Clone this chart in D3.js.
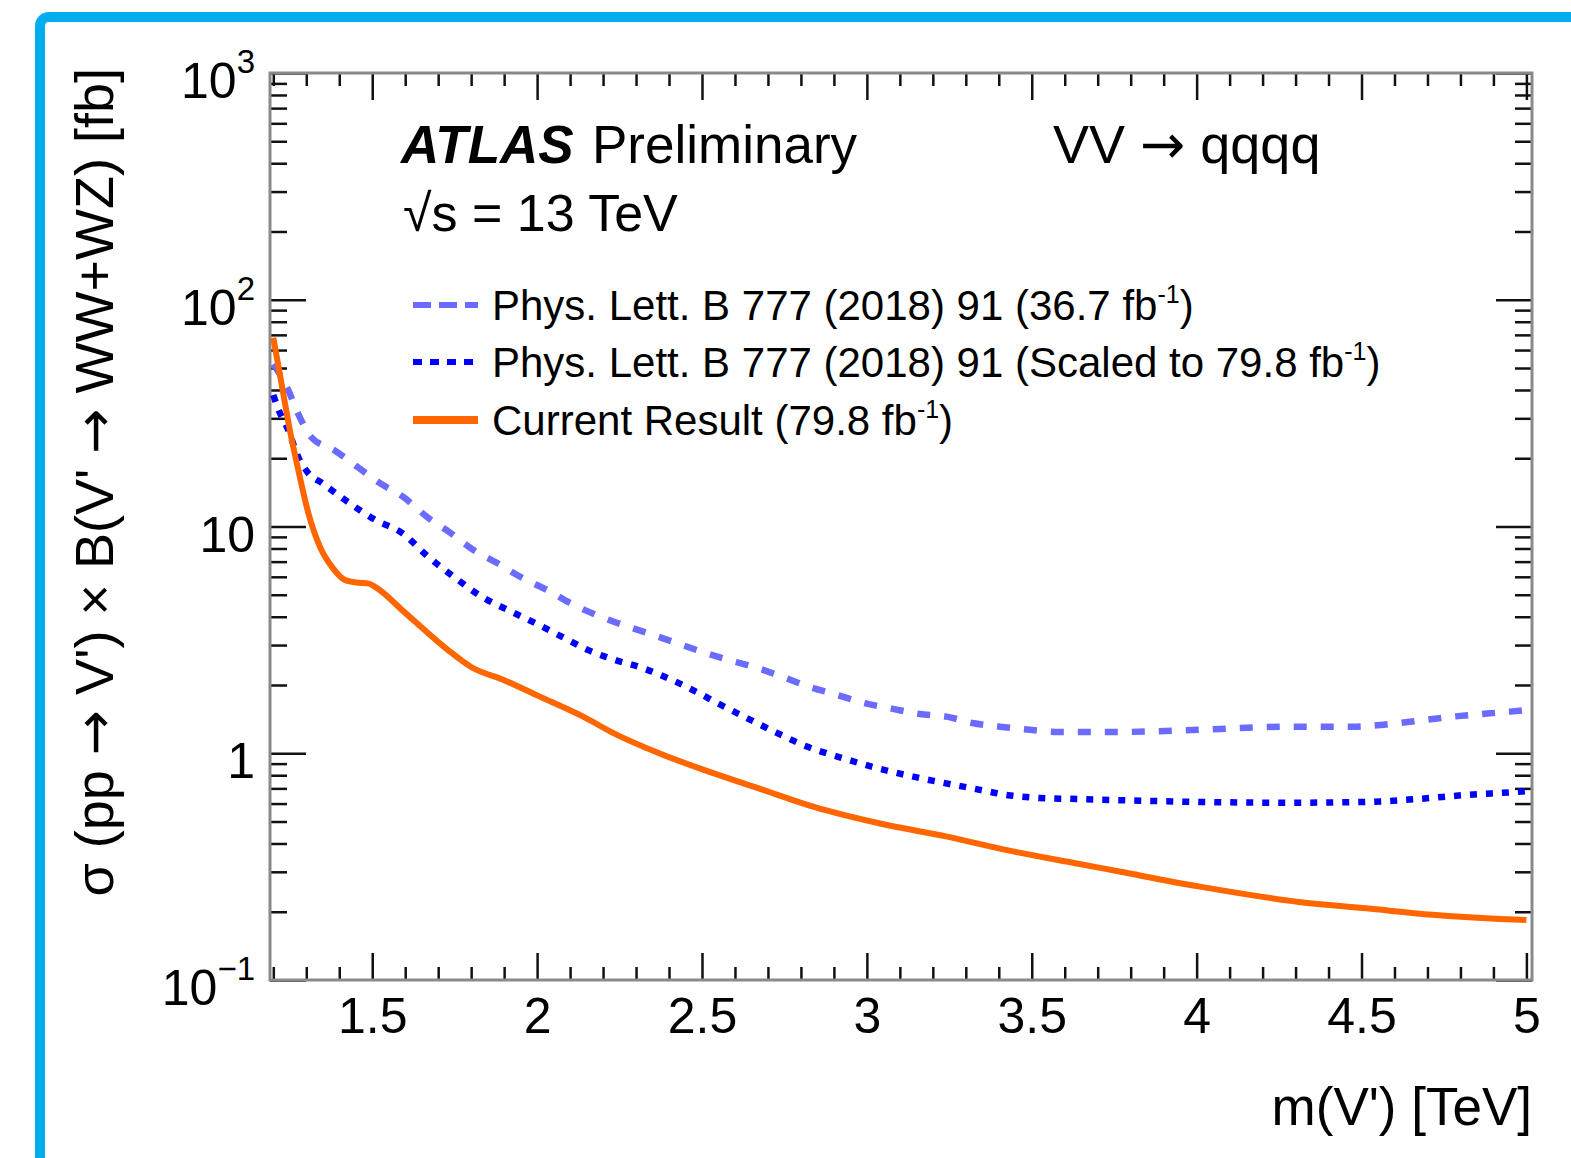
<!DOCTYPE html>
<html>
<head>
<meta charset="utf-8">
<script src="https://cdn.jsdelivr.net/npm/d3@7"></script>
<style>
  body { margin: 0; background: #fff; }
  svg text { font-family: "Liberation Sans", Arial, Helvetica, sans-serif; fill: #000; }
  svg tspan.arrow { font-family: "DejaVu Sans", sans-serif; }
</style>
</head>
<body>
<div id="vis"></div>
<script>
var massCurrent = [1.20, 1.227, 1.25, 1.276, 1.306, 1.342, 1.379, 1.418, 1.46, 1.49, 1.51, 1.60, 1.73, 1.80, 1.90, 2.00, 2.14, 2.23, 2.37, 2.51, 2.685, 2.84, 3.04, 3.24, 3.44, 3.645, 3.77, 4.01, 4.31, 4.515, 4.715, 4.92, 5.00];
var limitCurrent = [68, 41, 26.7, 17.7, 11.5, 8.1, 6.6, 5.8, 5.65, 5.6, 5.4, 4.16, 2.85, 2.4, 2.1, 1.8, 1.45, 1.23, 1.0, 0.84, 0.69, 0.58, 0.49, 0.43, 0.37, 0.325, 0.30, 0.258, 0.221, 0.207, 0.194, 0.186, 0.184];

var massOld = [1.20, 1.242, 1.273, 1.315, 1.385, 1.455, 1.524, 1.594, 1.667, 1.736, 1.806, 1.879, 1.958, 2.03, 2.10, 2.18, 2.26, 2.342, 2.424, 2.50, 2.585, 2.667, 2.745, 2.827, 2.909, 2.988, 3.079, 3.16, 3.242, 3.32, 3.403, 3.494, 3.585, 3.667, 3.745, 4.009, 4.273, 4.473, 4.615, 4.776, 4.958, 5.00];
var limitOld = [52, 41, 32, 24.8, 21.7, 18.3, 15.5, 13.5, 11.0, 9.4, 7.9, 6.9, 5.9, 5.25, 4.6, 4.07, 3.68, 3.36, 3.06, 2.8, 2.57, 2.38, 2.17, 1.96, 1.81, 1.67, 1.57, 1.49, 1.45, 1.36, 1.31, 1.27, 1.24, 1.24, 1.24, 1.27, 1.31, 1.31, 1.36, 1.45, 1.53, 1.55];

var massScaled = [1.20, 1.215, 1.245, 1.276, 1.306, 1.349, 1.427, 1.509, 1.591, 1.67, 1.752, 1.833, 1.912, 1.994, 2.076, 2.155, 2.236, 2.318, 2.388, 2.488, 2.545, 2.636, 2.727, 2.818, 2.918, 3.018, 3.121, 3.221, 3.321, 3.424, 3.524, 3.645, 3.745, 4.009, 4.273, 4.515, 4.667, 4.818, 4.97, 5.00];
var limitScaled = [38, 33, 26.7, 20.2, 17.2, 15.5, 12.8, 10.7, 9.35, 7.35, 5.93, 4.89, 4.28, 3.75, 3.26, 2.85, 2.58, 2.38, 2.17, 1.85, 1.67, 1.43, 1.23, 1.07, 0.96, 0.87, 0.80, 0.746, 0.70, 0.655, 0.635, 0.628, 0.622, 0.61, 0.605, 0.61, 0.628, 0.655, 0.675, 0.68];

var xMajorTicks = [1.5, 2, 2.5, 3, 3.5, 4, 4.5, 5];
var xTickLabels = ['1.5', '2', '2.5', '3', '3.5', '4', '4.5', '5'];
var yMajorTicks = [0.1, 1, 10, 100, 1000];
var yTickLabels = [['10', '\u22121'], ['1', ''], ['10', ''], ['10', '2'], ['10', '3']];

var legendLabels = [
  ['Phys. Lett. B 777 (2018) 91 (36.7 fb', '-1', ')'],
  ['Phys. Lett. B 777 (2018) 91 (Scaled to 79.8 fb', '-1', ')'],
  ['Current Result (79.8 fb', '-1', ')']
];

var width = 1571, height = 1158;
var plot = { left: 270, right: 1532, top: 73, bottom: 980 };

var series = [
  { xs: massOld, ys: limitOld, color: '#6b6bff', dash: '13,14', sw: 6.5 },
  { xs: massScaled, ys: limitScaled, color: '#0000ff', dash: '7,9', sw: 6.5 },
  { xs: massCurrent, ys: limitCurrent, color: '#ff6600', dash: null, sw: 6 }
];

var svg = d3.select('#vis').append('svg')
  .attr('width', width)
  .attr('height', height);

svg.append('rect').attr('width', width).attr('height', height).attr('fill', '#fff');

// cyan frame, only left and top edges are inside the picture
svg.append('rect')
  .attr('x', 40).attr('y', 17)
  .attr('width', 1700).attr('height', 1300)
  .attr('rx', 9)
  .attr('fill', 'none')
  .attr('stroke', '#00aeef')
  .attr('stroke-width', 10);

var x = d3.scaleLinear().domain([1.19, 5.017]).range([plot.left, plot.right]);
var y = d3.scaleLog().domain([0.1, 1000]).range([plot.bottom, plot.top]);

// minor tick positions
var xMinor = d3.range(12, 51).map(function (d) { return d / 10; })
  .filter(function (d) { return Math.abs(d * 2 - Math.round(d * 2)) > 1e-6; });
var yMinor = [];
[0.1, 1, 10, 100].forEach(function (dec) {
  for (var k = 2; k <= 9; k++) yMinor.push(dec * k);
});

function drawAxis(axis, translate) {
  var g = svg.append('g')
    .attr('transform', translate)
    .call(axis);
  g.select('.domain').remove();
  g.selectAll('.tick line').attr('stroke', '#111').attr('stroke-width', 2.5);
  return g;
}

// bottom axis with labels
var xAxisBottom = drawAxis(
  d3.axisBottom(x).tickValues(xMajorTicks).tickSizeInner(-27).tickSizeOuter(0).tickPadding(17)
    .tickFormat(function (d, i) { return xTickLabels[i]; }),
  'translate(0,' + plot.bottom + ')');
xAxisBottom.selectAll('.tick text')
  .attr('font-size', 50)
  .attr('font-family', '"Liberation Sans", Arial, sans-serif')
  .attr('fill', '#000');

drawAxis(d3.axisBottom(x).tickValues(xMinor).tickSizeInner(-13).tickSizeOuter(0).tickFormat(''),
  'translate(0,' + plot.bottom + ')');
drawAxis(d3.axisTop(x).tickValues(xMajorTicks).tickSizeInner(-27).tickSizeOuter(0).tickFormat(''),
  'translate(0,' + plot.top + ')');
drawAxis(d3.axisTop(x).tickValues(xMinor).tickSizeInner(-13).tickSizeOuter(0).tickFormat(''),
  'translate(0,' + plot.top + ')');

drawAxis(d3.axisLeft(y).tickValues(yMajorTicks).tickSizeInner(-36).tickSizeOuter(0).tickFormat(''),
  'translate(' + plot.left + ',0)');
drawAxis(d3.axisLeft(y).tickValues(yMinor).tickSizeInner(-17).tickSizeOuter(0).tickFormat(''),
  'translate(' + plot.left + ',0)');
drawAxis(d3.axisRight(y).tickValues(yMajorTicks).tickSizeInner(-36).tickSizeOuter(0).tickFormat(''),
  'translate(' + plot.right + ',0)');
drawAxis(d3.axisRight(y).tickValues(yMinor).tickSizeInner(-17).tickSizeOuter(0).tickFormat(''),
  'translate(' + plot.right + ',0)');

// frame of the plot
svg.append('rect')
  .attr('x', plot.left).attr('y', plot.top)
  .attr('width', plot.right - plot.left)
  .attr('height', plot.bottom - plot.top)
  .attr('fill', 'none')
  .attr('stroke', '#8a8a8a')
  .attr('stroke-width', 3);

// y tick labels with powers of ten
yMajorTicks.forEach(function (v, i) {
  var lab = yTickLabels[i];
  var t = svg.append('text')
    .attr('x', 255)
    .attr('y', y(v) + 25)
    .attr('text-anchor', 'end')
    .attr('font-size', 50);
  t.append('tspan').text(lab[0]);
  if (lab[1]) {
    t.append('tspan')
      .attr('dy', -25)
      .attr('font-size', 33)
      .text(lab[1]);
  }
});

// curves
svg.append('clipPath').attr('id', 'plotclip')
  .append('rect')
  .attr('x', plot.left).attr('y', plot.top)
  .attr('width', plot.right - plot.left)
  .attr('height', plot.bottom - plot.top);

var line = d3.line()
  .x(function (d) { return x(d[0]); })
  .y(function (d) { return y(d[1]); })
  .curve(d3.curveMonotoneX);

series.forEach(function (s) {
  var pts = s.xs.map(function (m, i) { return [m, s.ys[i]]; });
  svg.append('path')
    .datum(pts)
    .attr('clip-path', 'url(#plotclip)')
    .attr('d', line)
    .attr('fill', 'none')
    .attr('stroke', s.color)
    .attr('stroke-width', s.sw)
    .attr('stroke-dasharray', s.dash);
});

// write text where arrows use a font with a wide arrow glyph
function richText(sel, parts) {
  parts.forEach(function (p) {
    var ts = sel.append('tspan').text(p);
    if (p === '\u2192') ts.attr('class', 'arrow');
  });
  return sel;
}

// labels in the plot
svg.append('text')
  .attr('x', 401).attr('y', 163)
  .attr('font-size', 53)
  .attr('font-weight', 'bold')
  .attr('font-style', 'italic')
  .text('ATLAS');
svg.append('text')
  .attr('x', 592).attr('y', 163)
  .attr('font-size', 53)
  .text('Preliminary');
richText(svg.append('text')
  .attr('x', 1053).attr('y', 163)
  .attr('font-size', 54), ['VV ', '\u2192', ' qqqq']);
svg.append('text')
  .attr('x', 403).attr('y', 231)
  .attr('font-size', 52)
  .text('\u221As = 13 TeV');

// legend
var legendY = [305, 362, 420];
series.forEach(function (s, i) {
  svg.append('line')
    .attr('x1', 413).attr('x2', 478)
    .attr('y1', legendY[i]).attr('y2', legendY[i])
    .attr('stroke', s.color)
    .attr('stroke-width', s.dash ? 6 : 8)
    .attr('stroke-dasharray', s.dash ? (i === 0 ? '18,8' : '9,8') : null);
  var t = svg.append('text')
    .attr('x', 492)
    .attr('y', legendY[i] + 15)
    .attr('font-size', 42);
  t.append('tspan').text(legendLabels[i][0]);
  t.append('tspan').attr('dy', -17).attr('font-size', 25).text(legendLabels[i][1]);
  t.append('tspan').attr('dy', 17).text(legendLabels[i][2]);
});

// axis titles
svg.append('text')
  .attr('x', 1532).attr('y', 1125)
  .attr('text-anchor', 'end')
  .attr('font-size', 53)
  .text("m(V') [TeV]");

richText(svg.append('text')
  .attr('transform', 'translate(113,68) rotate(-90)')
  .attr('text-anchor', 'end')
  .attr('font-size', 54),
  ['\u03C3 (pp ', '\u2192', " V') \u00D7 B(V' ", '\u2192', ' WW+WZ) [fb]']);
</script>
</body>
</html>
